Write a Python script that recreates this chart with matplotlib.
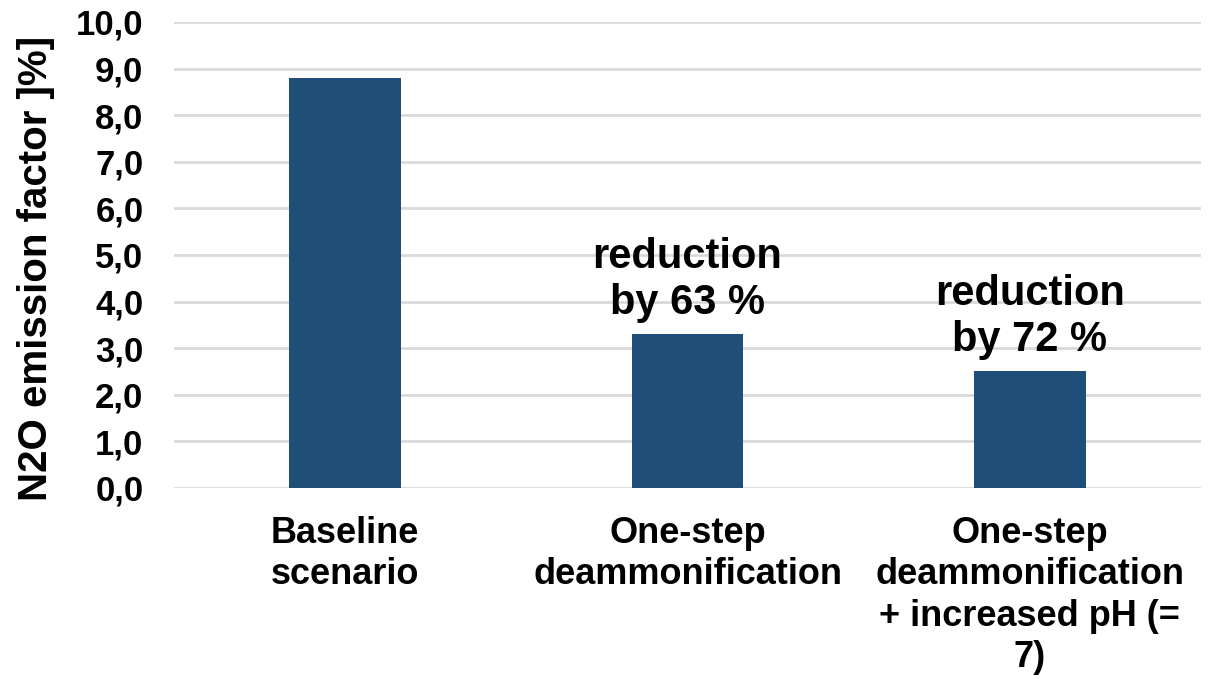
import matplotlib.pyplot as plt

# N2O emission factors per operating scenario
categories = ["Baseline\nscenario",
              "One-step\ndeammonification",
              "One-step\ndeammonification\n+ increased pH (=\n7)"]
emission_factor = [8.8, 3.3, 2.5]
reduction_pct = [None, 63, 72]
yticks = [0, 1, 2, 3, 4, 5, 6, 7, 8, 9, 10]

bar_color = "#1F4E79"
grid_color = "#D9D9D9"

plt.rcParams['font.family'] = ['Liberation Sans', 'DejaVu Sans']
plt.rcParams['font.weight'] = 'bold'

fig = plt.figure(figsize=(12.1, 6.79), dpi=100)
ax = fig.add_axes([0.1438, 0.2813, 0.8488, 0.6863])

x = range(len(categories))
ax.bar(x, emission_factor, width=0.327, color=bar_color, zorder=3)

ax.set_xlim(-0.5, len(categories) - 0.5)
ax.set_ylim(0, 10)
ax.set_yticks(yticks)
ax.set_yticklabels([f"{v:.1f}".replace(".", ",") for v in yticks],
                   fontsize=25, fontweight='bold')
ax.set_xticks(list(x))
ax.set_xticklabels(categories, fontsize=26, fontweight='bold', linespacing=1.24)
ax.tick_params(axis='y', length=0, pad=22)
ax.tick_params(axis='x', length=0, pad=20)

ax.grid(axis='y', color=grid_color, linewidth=2, zorder=0)
for side in ax.spines.values():
    side.set_visible(False)

# reduction relative to the baseline above the two deammonification bars
for i, (val, red) in enumerate(zip(emission_factor, reduction_pct)):
    if red is None:
        continue
    ax.annotate(f"reduction\nby {red} %", xy=(i, val), xytext=(0, 8),
                textcoords='offset points', ha='center', va='bottom',
                fontsize=30, fontweight='bold', linespacing=1.2)

fig.text(36 / 1210, 1 - 268 / 679, "N2O emission factor ]%]",
         rotation=90, ha='center', va='center', fontsize=29, fontweight='bold')

fig.savefig("out.png", dpi=100)
